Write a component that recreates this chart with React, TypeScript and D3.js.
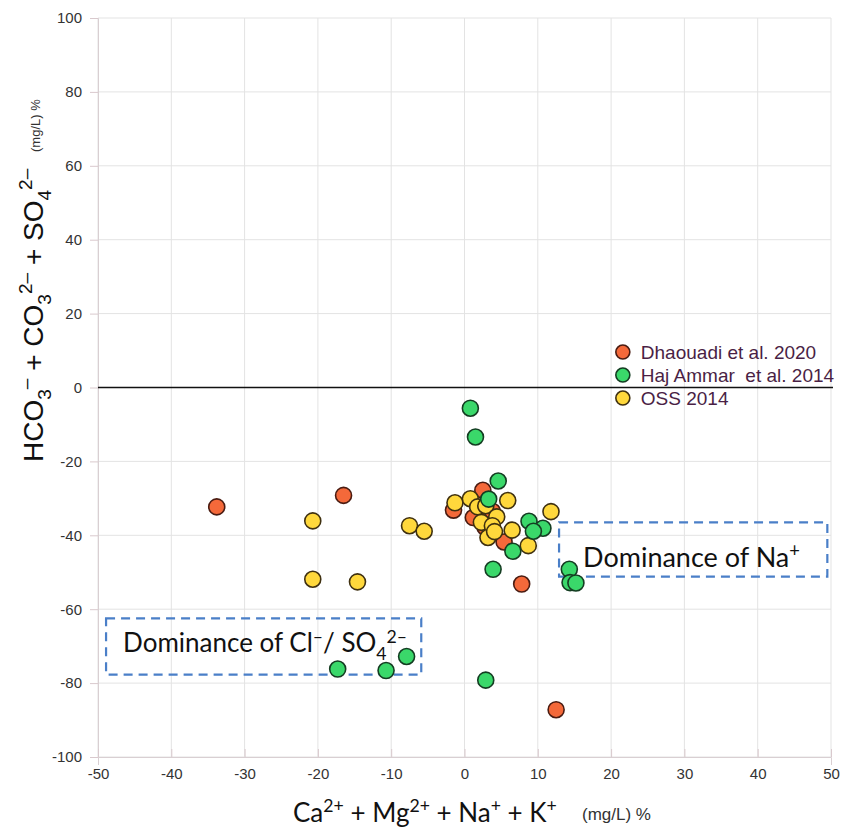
import React, { useEffect, useRef } from "react";
import * as d3 from "d3";

// cation / anion differences ([x, y] in %)
const dhaouadi2020 = [
  [-33.8, -32.3], [-16.5, -29.2], [2.5, -27.8], [-1.5, -33.2], [1.2, -35.2],
  [3.8, -33.5], [2.8, -37.8], [5.4, -41.8], [7.8, -53.2], [12.5, -87.2],
];
const hajAmmar2014 = [
  [0.8, -5.6], [1.5, -13.4], [4.6, -25.3], [3.3, -30.2], [8.8, -36.2],
  [10.7, -38.1], [9.4, -38.9], [6.6, -44.3], [3.9, -49.2], [14.3, -49.2],
  [14.4, -52.8], [15.2, -52.9], [2.9, -79.2], [-7.9, -72.8], [-10.7, -76.6],
  [-17.3, -76.2],
];
const oss2014 = [
  [-20.7, -36.1], [-20.7, -51.9], [-14.6, -52.6], [-7.5, -37.4], [-5.5, -38.9],
  [-1.3, -31.2], [0.8, -30.1], [1.8, -32.3], [2.9, -32.0], [5.9, -30.6],
  [11.8, -33.6], [4.4, -35.0], [2.3, -36.5], [3.8, -37.4], [6.5, -38.6],
  [3.2, -40.6], [4.1, -39.0], [8.7, -42.8],
];

const seriesNames = ["Dhaouadi et al. 2020", "Haj Ammar  et al. 2014", "OSS 2014"];
const seriesData = [dhaouadi2020, hajAmmar2014, oss2014];
const seriesFill = ["#f4693a", "#3ad86a", "#ffd83c"];
const seriesStroke = ["#4a1c12", "#143d22", "#3f3010"];
const drawOrder = [0, 2, 1];

const xTicks = [-50, -40, -30, -20, -10, 0, 10, 20, 30, 40, 50];
const yTicks = [100, 80, 60, 40, 20, 0, -20, -40, -60, -80, -100];

// dashed annotation boxes, in data units
const naBox = { x0: 12.9, x1: 49.5, y0: -36.5, y1: -51.2 };
const clBox = { x0: -48.9, x1: -5.9, y0: -62.5, y1: -77.7 };

type Part = { t: string; s?: "sub" | "sup" };

function rich(text: any, parts: Part[], size: number) {
  let cur = 0;
  parts.forEach((p) => {
    const small = p.s ? size * 0.68 : size;
    const shift = p.s === "sub" ? size * 0.28 : p.s === "sup" ? -size * 0.38 : 0;
    text.append("tspan")
      .attr("dy", shift - cur)
      .style("font-size", `${small}px`)
      .text(p.t);
    cur = shift;
  });
}

const Chart = () => {
  const svgRef = useRef<SVGSVGElement>(null);

  useEffect(() => {
    document.body.style.margin = "0";
    const width = 850;
    const height = 830;
    const margin = { top: 18, right: 19, bottom: 73, left: 98 };

    const svg = d3.select(svgRef.current)
      .attr("width", width)
      .attr("height", height)
      .style("display", "block")
      .style("background", "#fff");
    svg.selectAll("*").remove();

    const x = d3.scaleLinear().domain([-50, 50]).range([margin.left, width - margin.right]);
    const y = d3.scaleLinear().domain([-100, 100]).range([height - margin.bottom, margin.top]);

    // grid
    const grid = svg.append("g").attr("stroke", "#e3e3e3").attr("stroke-width", 1);
    xTicks.forEach((t) => {
      grid.append("line")
        .attr("x1", x(t)).attr("x2", x(t))
        .attr("y1", y(100)).attr("y2", y(-100));
    });
    yTicks.forEach((t) => {
      grid.append("line")
        .attr("x1", x(-50)).attr("x2", x(50))
        .attr("y1", y(t)).attr("y2", y(t));
    });

    // axes (plain hyphen for negatives, like the original)
    const axisFont = "'Liberation Sans', Arial, sans-serif";
    const fmt = (d: any) => String(d);
    const yAxis = svg.append("g")
      .attr("transform", `translate(${x(-50)},0)`)
      .call(d3.axisLeft(y).tickValues(yTicks).tickFormat(fmt).tickSize(8).tickPadding(8));
    const xAxis = svg.append("g")
      .attr("transform", `translate(0,${y(-100)})`)
      .call(d3.axisBottom(x).tickValues(xTicks).tickFormat(fmt).tickSize(8).tickPadding(3));
    [xAxis, yAxis].forEach((a) => {
      a.select(".domain").attr("stroke", "#d9cfd2");
      a.selectAll(".tick line").attr("stroke", "#d9c9cd");
      a.selectAll(".tick text")
        .attr("fill", "#333")
        .style("font-family", axisFont)
        .style("font-size", "15px");
    });
    xAxis.selectAll(".tick line").attr("y2", -8);

    // zero line
    svg.append("line")
      .attr("x1", x(-50)).attr("x2", x(50) + 2)
      .attr("y1", y(0)).attr("y2", y(0))
      .attr("stroke", "#111")
      .attr("stroke-width", 1.6);

    // annotation boxes
    const boxFont = "Lato, 'Open Sans', sans-serif";
    [naBox, clBox].forEach((b) => {
      svg.append("rect")
        .attr("x", x(b.x0)).attr("y", y(b.y0))
        .attr("width", x(b.x1) - x(b.x0))
        .attr("height", y(b.y1) - y(b.y0))
        .attr("fill", "none")
        .attr("stroke", "#4a7fc8")
        .attr("stroke-width", 2.2)
        .attr("stroke-dasharray", "9,6");
    });
    const naText = svg.append("text")
      .attr("x", x(naBox.x0) + 24).attr("y", y(naBox.y0) + 45)
      .style("font-family", boxFont).style("font-size", "27px").attr("fill", "#111");
    rich(naText, [{ t: "Dominance of Na" }, { t: "+", s: "sup" }], 27);
    const clText = svg.append("text")
      .attr("x", x(clBox.x0) + 17).attr("y", y(clBox.y0) + 34)
      .style("font-family", boxFont).style("font-size", "26px").attr("fill", "#111");
    rich(clText, [
      { t: "Dominance of Cl" }, { t: "\u2013", s: "sup" }, { t: "/ SO" },
      { t: "4", s: "sub" }, { t: "2\u2013", s: "sup" },
    ], 26);

    // points
    drawOrder.forEach((i) => {
      svg.append("g")
        .selectAll("circle")
        .data(seriesData[i])
        .join("circle")
        .attr("cx", (d) => x(d[0]))
        .attr("cy", (d) => y(d[1]))
        .attr("r", 8)
        .attr("fill", seriesFill[i])
        .attr("stroke", seriesStroke[i])
        .attr("stroke-width", 1.6);
    });

    // legend
    const legend = svg.append("g").attr("transform", `translate(${x(21.6)},${y(9.6)})`);
    seriesNames.forEach((name, i) => {
      const item = legend.append("g").attr("transform", `translate(0,${i * 23})`);
      item.append("circle")
        .attr("r", 7)
        .attr("fill", seriesFill[i])
        .attr("stroke", seriesStroke[i])
        .attr("stroke-width", 1.6);
      item.append("text")
        .attr("x", 18).attr("y", 7)
        .style("font-family", axisFont)
        .style("font-size", "19px")
        .style("white-space", "pre")
        .attr("fill", "#4a1f45")
        .text(name);
    });

    // x title
    const xt = svg.append("text")
      .attr("x", 293).attr("y", 822)
      .style("font-family", boxFont).style("font-size", "26px").attr("fill", "#111");
    rich(xt, [
      { t: "Ca" }, { t: "2+", s: "sup" }, { t: " + Mg" }, { t: "2+", s: "sup" },
      { t: " + Na" }, { t: "+", s: "sup" }, { t: " + K" }, { t: "+", s: "sup" },
    ], 26);
    svg.append("text")
      .attr("x", 582).attr("y", 820)
      .style("font-family", axisFont).style("font-size", "17px")
      .attr("fill", "#333")
      .text("(mg/L) %");

    // y title
    const yt = svg.append("text")
      .attr("transform", "translate(43,462) rotate(-90)")
      .style("font-family", axisFont).style("font-size", "28px").attr("fill", "#111");
    rich(yt, [
      { t: "HCO" }, { t: "3", s: "sub" }, { t: "\u2013", s: "sup" }, { t: " + CO" },
      { t: "3", s: "sub" }, { t: "2\u2013", s: "sup" }, { t: " + SO" },
      { t: "4", s: "sub" }, { t: "2\u2013", s: "sup" },
    ], 28);
    svg.append("text")
      .attr("transform", "translate(40,152) rotate(-90)")
      .style("font-family", axisFont).style("font-size", "13px")
      .attr("fill", "#333")
      .text("(mg/L) %");
  }, []);

  return <svg ref={svgRef}></svg>;
};

export default function App() {
  return <Chart />;
}
